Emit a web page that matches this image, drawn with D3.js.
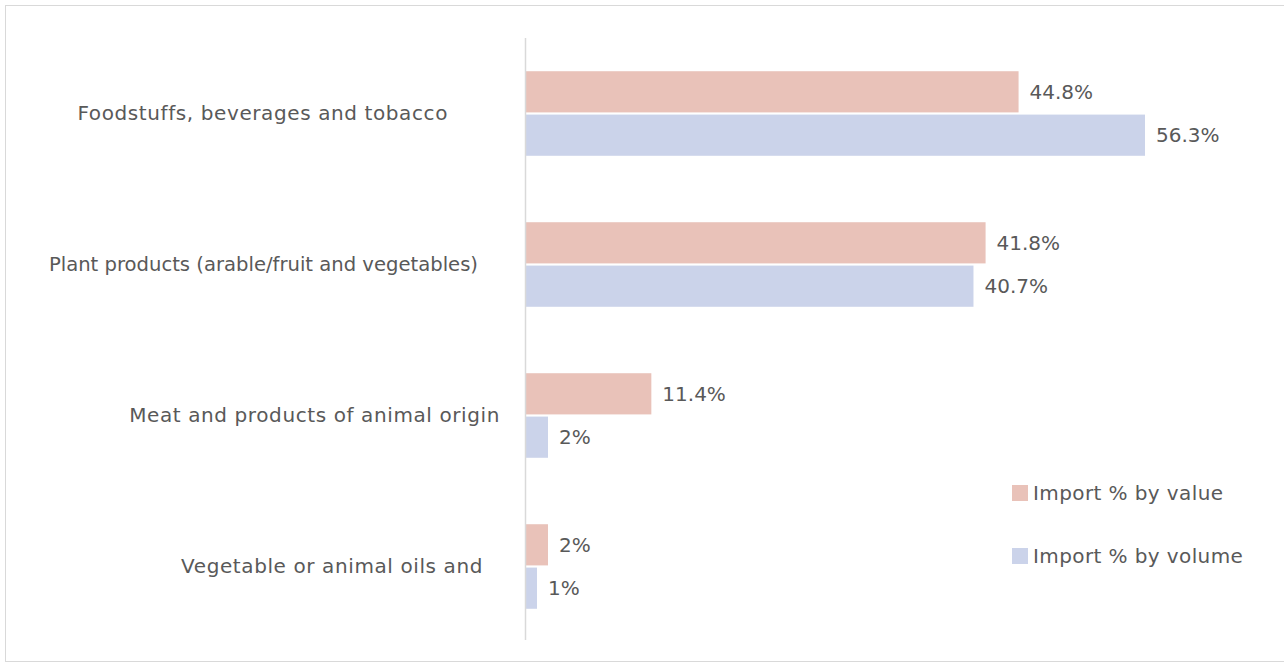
<!DOCTYPE html>
<html>
<head>
<meta charset="utf-8">
<script src="https://cdn.jsdelivr.net/npm/d3@7"></script>
<style>
  body { margin: 0; background: #fff; }
  svg text { font-family: "DejaVu Sans", sans-serif; fill: #595959; font-size: 20px; }
</style>
</head>
<body>
<svg id="chart" width="1284" height="666"></svg>
<script>
// data
var categories = [
  'Foodstuffs, beverages and tobacco',
  'Plant products (arable/fruit and vegetables)',
  'Meat and products of animal origin',
  'Vegetable or animal oils and'
];
var seriesNames = ['Import % by value', 'Import % by volume'];
var byValue = [44.8, 41.8, 11.4, 2];
var byVolume = [56.3, 40.7, 2, 1];
var valueLabels = ['44.8%', '41.8%', '11.4%', '2%'];
var volumeLabels = ['56.3%', '40.7%', '2%', '1%'];

var colors = ['#e9c2b9', '#cbd3ea'];
// right edge / size / spacing of each category label (Excel laid them out unevenly)
var labelRight = [448, 478, 500, 483];
var labelSize = [20, 19.6, 20, 20];
var labelSpacing = [0.6, 0, 0.6, 0.6];

var svg = d3.select('#chart');

// outer chart frame
svg.append('rect')
    .attr('x', 5.5).attr('y', 5.5)
    .attr('width', 1290).attr('height', 656)
    .attr('fill', 'none')
    .attr('stroke', '#d9d9d9');

var x = d3.scaleLinear().domain([0, 56.3]).range([526, 1145]);
var y = d3.scaleBand().domain(categories).range([38, 642]).paddingInner(0.44).paddingOuter(0.22);
var sub = d3.scaleBand().domain([0, 1]).range([0, y.bandwidth()]).paddingInner(0.05);

var rows = categories.map(function(c, i) {
    return {cat: c, vals: [byValue[i], byVolume[i]], labs: [valueLabels[i], volumeLabels[i]], i: i};
});

var g = svg.selectAll('g.row').data(rows).enter().append('g')
    .attr('class', 'row')
    .attr('transform', function(d) { return 'translate(0,' + y(d.cat) + ')'; });

g.selectAll('rect').data(function(d) { return d.vals; }).enter().append('rect')
    .attr('x', x(0))
    .attr('y', function(d, j) { return sub(j); })
    .attr('width', function(d) { return x(d) - x(0); })
    .attr('height', sub.bandwidth())
    .attr('fill', function(d, j) { return colors[j]; });

g.selectAll('text.val').data(function(d) { return d.vals.map(function(v, j) { return {v: v, t: d.labs[j]}; }); })
    .enter().append('text')
    .attr('class', 'val')
    .attr('x', function(d) { return x(d.v) + 11; })
    .attr('y', function(d, j) { return sub(j) + sub.bandwidth() / 2; })
    .attr('dy', '0.35em')
    .text(function(d) { return d.t; });

g.append('text')
    .attr('x', function(d) { return labelRight[d.i]; })
    .attr('y', y.bandwidth() / 2)
    .attr('dy', '0.35em')
    .attr('text-anchor', 'end')
    .style('font-size', function(d) { return labelSize[d.i] + 'px'; })
    .style('letter-spacing', function(d) { return labelSpacing[d.i] + 'px'; })
    .text(function(d) { return d.cat; });

// vertical axis line
svg.append('line')
    .attr('x1', x(0) - 0.5).attr('x2', x(0) - 0.5)
    .attr('y1', 38).attr('y2', 640)
    .attr('stroke', '#d9d9d9')
    .attr('stroke-width', 1.5);

// legend
var legend = svg.selectAll('g.legend').data(seriesNames).enter().append('g')
    .attr('class', 'legend')
    .attr('transform', function(d, i) { return 'translate(1012,' + (485 + i * 63) + ')'; });

legend.append('rect')
    .attr('width', 16).attr('height', 16)
    .attr('fill', function(d, i) { return colors[i]; });

legend.append('text')
    .attr('x', 21).attr('y', 8)
    .attr('dy', '0.35em')
    .style('letter-spacing', '0.4px')
    .text(function(d) { return d; });
</script>
</body>
</html>
